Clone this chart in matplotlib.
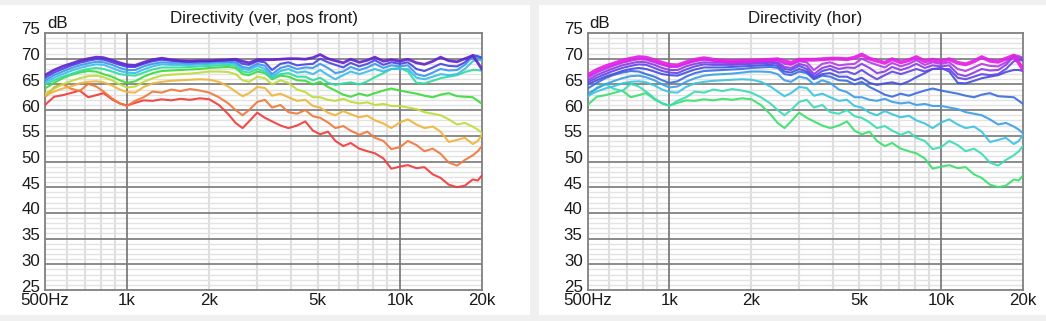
import matplotlib.pyplot as plt
from matplotlib.patches import Rectangle
from matplotlib.transforms import ScaledTranslation

plt.rcParams['font.family'] = ['Liberation Sans', 'DejaVu Sans']

# frequency points (Hz)
freqs = [500, 540, 580, 620, 670, 720, 770, 820, 880, 940,
         1000, 1070, 1150, 1240, 1340, 1450, 1570, 1700, 1850, 2000,
         2170, 2350, 2500, 2650, 2800, 3000, 3200, 3400, 3650, 3900,
         4200, 4500, 4800, 5100, 5450, 5800, 6200, 6600, 7100, 7600,
         8100, 8700, 9300, 10000, 10700, 11500, 12300, 13200, 14100, 15100,
         16200, 17300, 18500, 19300, 20000]

# SPL curves (dB), on-axis first, widest angle last
c0 = [66.8, 67.8, 68.5, 69.0, 69.6, 70.0, 70.3, 70.2, 69.7, 69.2,
      68.8, 68.7, 69.3, 69.8, 70.1, 69.8, 69.6, 69.5, 69.6, 69.6,
      69.7, 69.8, 69.9, 69.5, 69.2, 69.8, 69.8, 69.8, 69.9, 70.0,
      70.0, 69.9, 70.2, 70.8, 70.0, 69.6, 69.2, 69.9, 69.3, 69.7,
      70.3, 69.5, 69.8, 69.5, 69.9, 69.2, 68.9, 69.5, 70.3, 69.6,
      69.4, 70.0, 70.6, 69.2, 67.9]
c1 = [66.3, 67.3, 68.0, 68.6, 69.2, 69.6, 69.9, 69.8, 69.3, 68.8,
      68.4, 68.4, 69.0, 69.5, 69.8, 69.6, 69.5, 69.4, 69.5, 69.5,
      69.6, 69.7, 69.7, 69.0, 68.8, 69.5, 69.3, 67.8, 69.0, 69.3,
      68.7, 68.9, 69.0, 70.0, 69.3, 68.8, 68.3, 69.2, 68.5, 69.0,
      69.7, 68.8, 69.3, 69.0, 69.3, 68.0, 67.6, 68.3, 69.0, 68.6,
      68.5, 69.3, 70.7, 70.5, 70.2]
c2 = [65.8, 66.8, 67.5, 68.1, 68.7, 69.1, 69.4, 69.3, 68.8, 68.2,
      67.8, 67.8, 68.5, 69.0, 69.3, 69.2, 69.2, 69.1, 69.2, 69.3,
      69.4, 69.4, 69.3, 68.4, 68.2, 69.0, 68.6, 67.0, 68.2, 68.6,
      68.0, 68.3, 68.2, 69.0, 68.2, 67.2, 67.5, 68.4, 67.8, 68.3,
      69.0, 68.2, 68.7, 68.5, 68.7, 67.0, 66.6, 67.3, 68.0, 67.7,
      67.8, 68.8, 70.4, 70.3, 70.0]
c3 = [65.4, 66.3, 67.0, 67.6, 68.2, 68.6, 68.9, 68.8, 68.2, 67.6,
      67.3, 67.2, 67.9, 68.5, 68.9, 68.8, 68.8, 68.8, 68.9, 69.0,
      69.1, 69.2, 69.0, 68.0, 67.8, 68.6, 68.0, 66.5, 67.6, 68.0,
      67.3, 67.5, 67.0, 67.8, 66.8, 66.0, 66.8, 67.5, 67.0, 67.5,
      68.0, 67.5, 68.0, 68.0, 68.0, 66.3, 66.0, 66.5, 67.0, 66.8,
      67.0, 68.0, 69.5, 69.8, 69.6]
c4 = [65.0, 65.8, 66.5, 67.0, 67.6, 68.0, 68.2, 68.0, 67.5, 67.0,
      66.8, 66.7, 67.3, 67.9, 68.3, 68.3, 68.3, 68.4, 68.5, 68.6,
      68.7, 68.8, 68.6, 67.5, 67.3, 68.0, 67.5, 66.2, 67.0, 67.2,
      66.5, 66.5, 65.8, 66.3, 65.3, 64.9, 65.2, 65.4, 65.0, 65.6,
      66.4, 67.2, 68.0, 68.2, 67.5, 65.3, 65.2, 65.7, 66.2, 66.5,
      66.8, 67.4, 67.8, 67.8, 67.6]
c5 = [64.2, 65.3, 66.2, 66.8, 67.3, 67.6, 67.5, 67.0, 66.5, 65.8,
      65.3, 65.6, 66.5, 67.2, 67.6, 67.7, 67.8, 67.9, 68.0, 68.2,
      68.3, 68.4, 68.2, 67.0, 66.8, 67.5, 67.2, 66.0, 66.7, 66.5,
      65.8, 65.7, 65.0, 65.5, 64.5, 63.8, 63.0, 62.6, 63.2, 62.8,
      63.3, 63.8, 64.2, 63.8, 63.5, 63.2, 62.8, 62.5, 63.0, 63.3,
      62.7, 62.6, 62.5, 61.8, 61.2]
c6 = [63.2, 64.2, 65.0, 65.6, 66.2, 66.6, 66.7, 66.4, 65.8, 65.0,
      64.4, 64.6, 65.5, 66.2, 66.7, 66.9, 67.0, 67.1, 67.3, 67.5,
      67.5, 67.4, 67.0, 65.8, 65.5, 66.5, 66.2, 65.0, 65.8, 65.3,
      64.0, 63.5, 62.5, 62.5, 62.0, 61.8, 62.2, 61.6, 61.3, 61.5,
      61.0, 61.2, 60.8, 60.8, 60.5, 60.2, 59.6, 59.3, 59.0, 58.2,
      57.2, 57.5, 56.8, 56.2, 55.5]
c7 = [62.8, 63.6, 64.2, 64.6, 65.2, 65.5, 65.6, 65.4, 64.8, 64.0,
      63.5, 63.4, 64.5, 65.2, 65.5, 65.7, 65.8, 65.9, 66.0, 65.9,
      65.5, 64.6, 63.6, 62.7, 63.3, 64.5, 64.3, 62.8, 63.2, 62.5,
      61.8, 62.0, 60.8, 60.5, 59.5, 59.0, 59.8, 59.2, 58.6, 58.9,
      58.0, 57.4, 56.5, 57.6, 58.2, 57.2, 56.5, 56.8, 55.8, 53.8,
      54.2, 54.6, 53.4, 54.0, 55.2]
c8 = [62.5, 64.4, 65.1, 64.2, 63.7, 65.1, 64.6, 63.6, 62.3, 61.3,
      60.8, 61.8, 62.5, 63.6, 63.4, 64.0, 63.7, 64.1, 63.8, 63.4,
      62.5, 61.3, 60.0, 59.0, 60.0, 61.6, 62.0, 60.5, 61.0, 59.6,
      59.3, 60.0, 58.8, 58.5, 57.6, 56.5, 56.9, 56.0, 55.2, 55.8,
      54.6, 54.0, 52.4, 52.8, 54.0, 53.2, 52.0, 52.5, 51.5, 49.8,
      49.2, 50.3, 51.2, 52.0, 53.0]
c9 = [61.0, 62.6, 62.9, 63.3, 63.8, 62.5, 62.9, 63.3, 62.1, 61.3,
      60.9, 61.4, 61.9, 61.8, 62.1, 61.9, 62.2, 62.0, 62.3, 62.1,
      61.0, 59.2, 57.5, 56.5, 57.8, 59.5, 58.5, 57.8, 57.0, 56.5,
      57.0, 57.8, 56.0, 55.3, 55.8, 54.0, 53.0, 53.6, 52.5, 52.0,
      51.6, 50.6, 48.6, 49.0, 49.3, 48.7, 48.9, 47.5, 46.8, 45.5,
      45.0, 45.3, 46.5, 46.3, 47.3]
curves = [c0, c1, c2, c3, c4, c5, c6, c7, c8, c9]

colors_ver = ['#6424cc', '#4646e6', '#3c96f0', '#3cbee6', '#32dca0',
              '#3cdc3c', '#bedc3c', '#f0b43c', '#f0783c', '#f03c3c']
colors_hor = ['#e61ee6', '#b43ce6', '#8c3ce6', '#6446e6', '#4650e0',
              '#3c6ee0', '#3c9ee6', '#3cc4e0', '#3cdcb4', '#3ce06e']

xtick_vals = [500, 1000, 2000, 5000, 10000, 20000]
xtick_labels = ['500Hz', '1k', '2k', '5k', '10k', '20k']
ytick_vals = list(range(25, 80, 5))
minor_x = [600, 700, 800, 900, 2000, 3000, 4000, 5000, 6000, 7000, 8000, 9000]
major_x = [1000, 10000]

fig = plt.figure(figsize=(10.46, 3.21), dpi=100, facecolor='#f0f0f0')
W, H = 1046, 321
fig.patches.append(Rectangle((0, 6 / H), 530 / W, 310 / H, transform=fig.transFigure,
                             facecolor='white', edgecolor='none', zorder=-10))
fig.patches.append(Rectangle((539 / W, 6 / H), 507 / W, 310 / H, transform=fig.transFigure,
                             facecolor='white', edgecolor='none', zorder=-10))


def draw_panel(rect, title, colors, top_lw):
    ax = fig.add_axes(rect)
    ax.set_xscale('log')
    ax.set_facecolor('white')
    for f in minor_x:
        ax.axvline(f, color='#dedede', lw=1.5, zorder=1)
    for f in major_x:
        ax.axvline(f, color='#727272', lw=1.2, zorder=1.5)
    for y in range(26, 75):
        if y % 5:
            ax.axhline(y, color='#e2e2e2', lw=1.0, zorder=1)
    for y in range(30, 75, 5):
        ax.axhline(y, color='#787878', lw=1.2, zorder=1.5)
    for i in reversed(range(len(curves))):
        lw = top_lw if i == 0 else 1.5
        ax.plot(freqs, curves[i], color=colors[i], lw=lw, alpha=0.92, zorder=3)
    ax.set_xlim(500, 20000)
    ax.set_ylim(25, 75)
    ax.set_xticks(xtick_vals)
    ax.set_xticklabels(xtick_labels)
    ax.set_xticks([], minor=True)
    ax.set_yticks(ytick_vals)
    ax.tick_params(length=0, labelsize=12.2, colors='#1a1a1a')
    ax.tick_params(axis='x', pad=2.2)
    ax.tick_params(axis='y', pad=3.6)
    for lab in ax.get_yticklabels():
        lab.set_transform(lab.get_transform() + ScaledTranslation(0, 4.5 / 100, fig.dpi_scale_trans))
    for s in ax.spines.values():
        s.set_color('#808080')
        s.set_linewidth(1.3)
    ax.set_title(title, fontsize=12.2, pad=7, color='#1a1a1a')
    ax.annotate('dB', xy=(0, 1), xycoords='axes fraction', xytext=(2, 5),
                textcoords='offset pixels', va='baseline', ha='left',
                fontsize=12.2, color='#1a1a1a')
    return ax


draw_panel([45 / W, 31 / H, 437 / W, 257 / H], 'Directivity (ver, pos front)', colors_ver, 2.0)
draw_panel([587.7 / W, 31 / H, 435.3 / W, 257 / H], 'Directivity (hor)', colors_hor, 2.8)

fig.savefig('out.png', dpi=100, facecolor=fig.get_facecolor())
